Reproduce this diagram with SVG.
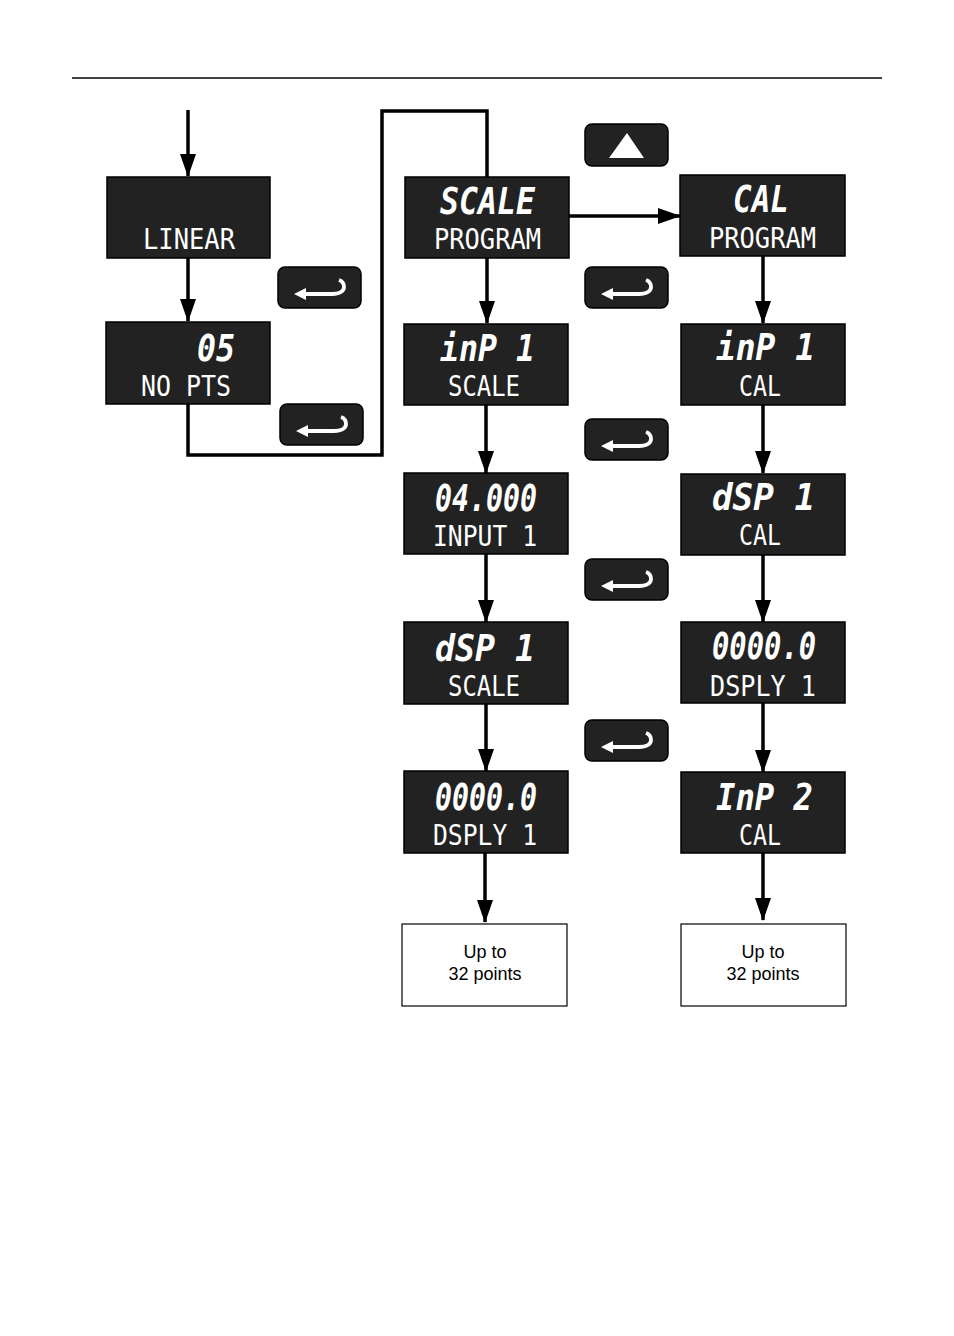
<svg xmlns="http://www.w3.org/2000/svg" xmlns:xlink="http://www.w3.org/1999/xlink" width="954" height="1336" viewBox="0 0 954 1336">
<style>
.disp{fill:#222;stroke:#000;stroke-width:1.5}
.btn{fill:#222;stroke:#000;stroke-width:1.5}
.top{font-family:"DejaVu Sans Mono",monospace;font-style:italic;font-weight:bold;font-size:38px;fill:#fff}
.bot{font-family:"DejaVu Sans Mono",monospace;font-size:28px;fill:#fff}
.note{fill:#fff;stroke:#000;stroke-width:1.2}
.nt{font-family:"Liberation Sans",Arial,sans-serif;font-size:18px;fill:#000;text-anchor:middle}
.conn{fill:none;stroke:#000;stroke-width:3.5}
</style>
<defs>
<marker id="arr" markerUnits="userSpaceOnUse" markerWidth="24" markerHeight="17" refX="22" refY="8" orient="auto">
<path d="M0,0 L23,8 L0,16 Z" fill="#000"/>
</marker>
<g id="enter">
<rect class="btn" x="0" y="0" width="83" height="41" rx="7"/>
<path d="M25,27 H54 C62,27 66,24 66,20 C66,16 64,14 61,13" fill="none" stroke="#fff" stroke-width="3.8"/>
<path d="M16,27 L28,21 L28,33 Z" fill="#fff"/>
</g>
</defs>
<rect width="954" height="1336" fill="#fff"/>
<line x1="72" y1="78" x2="882" y2="78" stroke="#000" stroke-width="1.6"/>

<g id="connectors">
<path class="conn" d="M188,110 V176" marker-end="url(#arr)"/>
<path class="conn" d="M188,258 V321" marker-end="url(#arr)"/>
<path class="conn" d="M188,404 V455 H382 V111 H487 V177"/>
<path class="conn" d="M569,216 H680" marker-end="url(#arr)"/>
<path class="conn" d="M487,258 V323" marker-end="url(#arr)"/>
<path class="conn" d="M486,405 V473" marker-end="url(#arr)"/>
<path class="conn" d="M486,554 V622" marker-end="url(#arr)"/>
<path class="conn" d="M486,704 V771" marker-end="url(#arr)"/>
<path class="conn" d="M485,853 V922" marker-end="url(#arr)"/>
<path class="conn" d="M763,256 V323" marker-end="url(#arr)"/>
<path class="conn" d="M763,405 V473" marker-end="url(#arr)"/>
<path class="conn" d="M763,555 V622" marker-end="url(#arr)"/>
<path class="conn" d="M763,703 V772" marker-end="url(#arr)"/>
<path class="conn" d="M763,853 V920" marker-end="url(#arr)"/>
</g>

<g id="buttons">
<use xlink:href="#enter" href="#enter" x="278" y="267"/>
<use xlink:href="#enter" href="#enter" x="280" y="404"/>
<g id="btn-up">
<rect class="btn" x="585" y="124" width="83" height="42" rx="7"/>
<path d="M627,133 L644,158 L609,158 Z" fill="#fff"/>
</g>
<use xlink:href="#enter" href="#enter" x="585" y="267"/>
<use xlink:href="#enter" href="#enter" x="585" y="419"/>
<use xlink:href="#enter" href="#enter" x="585" y="559"/>
<use xlink:href="#enter" href="#enter" x="585" y="720"/>
</g>

<g id="n-linear">
<rect class="disp" x="107" y="177" width="163" height="81"/>
<text class="bot" x="143" y="249" textLength="92" lengthAdjust="spacingAndGlyphs">LINEAR</text>
</g>
<g id="n-nopts">
<rect class="disp" x="106" y="322" width="164" height="82"/>
<text class="top" x="197" y="361" textLength="38" lengthAdjust="spacingAndGlyphs">05</text>
<text class="bot" x="141" y="396" textLength="90" lengthAdjust="spacingAndGlyphs" xml:space="preserve">NO PTS</text>
</g>
<g id="n-scale-program">
<rect class="disp" x="405" y="177" width="164" height="81"/>
<text class="top" x="440" y="214" textLength="95" lengthAdjust="spacingAndGlyphs">SCALE</text>
<text class="bot" x="434" y="249" textLength="107" lengthAdjust="spacingAndGlyphs">PROGRAM</text>
</g>
<g id="n-cal-program">
<rect class="disp" x="680" y="175" width="165" height="81"/>
<text class="top" x="733" y="212" textLength="56" lengthAdjust="spacingAndGlyphs">CAL</text>
<text class="bot" x="709" y="248" textLength="107" lengthAdjust="spacingAndGlyphs">PROGRAM</text>
</g>
<g id="n-inp1-scale">
<rect class="disp" x="404" y="324" width="164" height="81"/>
<text class="top" x="440" y="361" textLength="95" lengthAdjust="spacingAndGlyphs" xml:space="preserve">inP 1</text>
<text class="bot" x="448" y="396" textLength="72" lengthAdjust="spacingAndGlyphs">SCALE</text>
</g>
<g id="n-inp1-cal">
<rect class="disp" x="681" y="324" width="164" height="81"/>
<text class="top" x="716" y="360" textLength="99" lengthAdjust="spacingAndGlyphs" xml:space="preserve">inP 1</text>
<text class="bot" x="739" y="396" textLength="42" lengthAdjust="spacingAndGlyphs">CAL</text>
</g>
<g id="n-input1">
<rect class="disp" x="404" y="473" width="164" height="81"/>
<text class="top" x="435" y="511" textLength="102" lengthAdjust="spacingAndGlyphs">04.000</text>
<text class="bot" x="433" y="546" textLength="104" lengthAdjust="spacingAndGlyphs" xml:space="preserve">INPUT 1</text>
</g>
<g id="n-dsp1-cal">
<rect class="disp" x="681" y="474" width="164" height="81"/>
<text class="top" x="712" y="510" textLength="103" lengthAdjust="spacingAndGlyphs" xml:space="preserve">dSP 1</text>
<text class="bot" x="739" y="545" textLength="42" lengthAdjust="spacingAndGlyphs">CAL</text>
</g>
<g id="n-dsp1-scale">
<rect class="disp" x="404" y="622" width="164" height="82"/>
<text class="top" x="435" y="661" textLength="100" lengthAdjust="spacingAndGlyphs" xml:space="preserve">dSP 1</text>
<text class="bot" x="448" y="696" textLength="72" lengthAdjust="spacingAndGlyphs">SCALE</text>
</g>
<g id="n-dsply1-cal">
<rect class="disp" x="681" y="622" width="164" height="81"/>
<text class="top" x="712" y="659" textLength="104" lengthAdjust="spacingAndGlyphs">0000.0</text>
<text class="bot" x="710" y="696" textLength="106" lengthAdjust="spacingAndGlyphs" xml:space="preserve">DSPLY 1</text>
</g>
<g id="n-dsply1-scale">
<rect class="disp" x="404" y="771" width="164" height="82"/>
<text class="top" x="435" y="810" textLength="102" lengthAdjust="spacingAndGlyphs">0000.0</text>
<text class="bot" x="433" y="845" textLength="104" lengthAdjust="spacingAndGlyphs" xml:space="preserve">DSPLY 1</text>
</g>
<g id="n-inp2-cal">
<rect class="disp" x="681" y="772" width="164" height="81"/>
<text class="top" x="716" y="810" textLength="97" lengthAdjust="spacingAndGlyphs" xml:space="preserve">InP 2</text>
<text class="bot" x="739" y="845" textLength="42" lengthAdjust="spacingAndGlyphs">CAL</text>
</g>
<g id="n-upto-scale">
<rect class="note" x="402" y="924" width="165" height="82"/>
<text class="nt" x="485" y="958">Up to</text>
<text class="nt" x="485" y="980">32 points</text>
</g>
<g id="n-upto-cal">
<rect class="note" x="681" y="924" width="165" height="82"/>
<text class="nt" x="763" y="958">Up to</text>
<text class="nt" x="763" y="980">32 points</text>
</g>
</svg>
